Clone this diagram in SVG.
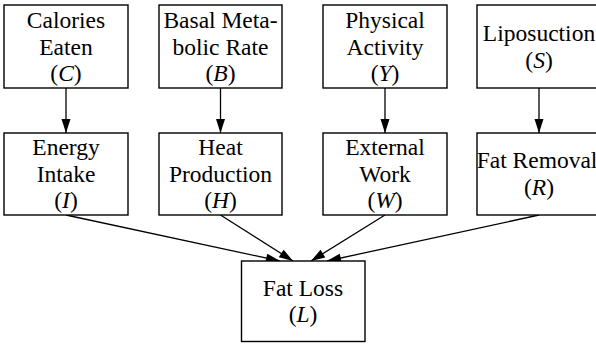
<svg xmlns="http://www.w3.org/2000/svg" width="596" height="345" viewBox="0 0 596 345">
<style>
rect.n{fill:#fff;stroke:#000;stroke-width:1.4}
text{font-family:"Liberation Serif","Times New Roman",serif;font-size:23.5px;fill:#000;text-anchor:middle}
.v{font-style:italic}
.e{stroke:#000;stroke-width:1.3;fill:none;marker-end:url(#ah)}
</style>
<defs>
<marker id="ah" markerUnits="userSpaceOnUse" markerWidth="15" markerHeight="10" refX="14" refY="4.5" orient="auto" overflow="visible">
<path d="M0,0 L14,4.5 L0,9 Z" fill="#000"/>
</marker>
</defs>
<rect width="596" height="345" fill="#fff"/>
<g id="connectors">
<line class="e" x1="66" y1="88" x2="66" y2="133"/>
<line class="e" x1="220.5" y1="88" x2="220.5" y2="133"/>
<line class="e" x1="385" y1="88" x2="385" y2="133"/>
<line class="e" x1="539" y1="88" x2="539" y2="133"/>
<line class="e" x1="66" y1="215" x2="280" y2="261"/>
<line class="e" x1="220.5" y1="215" x2="293" y2="261"/>
<line class="e" x1="385" y1="215" x2="311" y2="261"/>
<line class="e" x1="539" y1="215" x2="327" y2="261"/>
</g>
<g id="C">
<rect class="n" x="4" y="5" width="124" height="83"/>
<text x="66" y="28">Calories</text>
<text x="66" y="54.5">Eaten</text>
<text x="66" y="81">(<tspan class="v">C</tspan>)</text>
</g>
<g id="B">
<rect class="n" x="159" y="5" width="123" height="83"/>
<text x="220.5" y="28">Basal Meta-</text>
<text x="220.5" y="54.5">bolic Rate</text>
<text x="220.5" y="81">(<tspan class="v">B</tspan>)</text>
</g>
<g id="Y">
<rect class="n" x="323" y="5" width="124" height="83"/>
<text x="385" y="28">Physical</text>
<text x="385" y="54.5">Activity</text>
<text x="385" y="81">(<tspan class="v">Y</tspan>)</text>
</g>
<g id="S">
<rect class="n" x="477" y="5" width="124" height="83"/>
<text x="539" y="41">Liposuction</text>
<text x="539" y="67.5">(<tspan class="v">S</tspan>)</text>
</g>
<g id="I">
<rect class="n" x="4" y="133" width="124" height="82"/>
<text x="66" y="155">Energy</text>
<text x="66" y="181.5">Intake</text>
<text x="66" y="208">(<tspan class="v">I</tspan>)</text>
</g>
<g id="H">
<rect class="n" x="159" y="133" width="123" height="82"/>
<text x="220.5" y="155">Heat</text>
<text x="220.5" y="181.5">Production</text>
<text x="220.5" y="208">(<tspan class="v">H</tspan>)</text>
</g>
<g id="W">
<rect class="n" x="323" y="133" width="124" height="82"/>
<text x="385" y="155">External</text>
<text x="385" y="181.5">Work</text>
<text x="385" y="208">(<tspan class="v">W</tspan>)</text>
</g>
<g id="R">
<rect class="n" x="477" y="133" width="124" height="82"/>
<text x="537" y="168">Fat Removal</text>
<text x="539" y="194.5">(<tspan class="v">R</tspan>)</text>
</g>
<g id="L">
<rect class="n" x="241.5" y="261" width="123.5" height="80.5"/>
<text x="303" y="295.5">Fat Loss</text>
<text x="303" y="322">(<tspan class="v">L</tspan>)</text>
</g>
</svg>
